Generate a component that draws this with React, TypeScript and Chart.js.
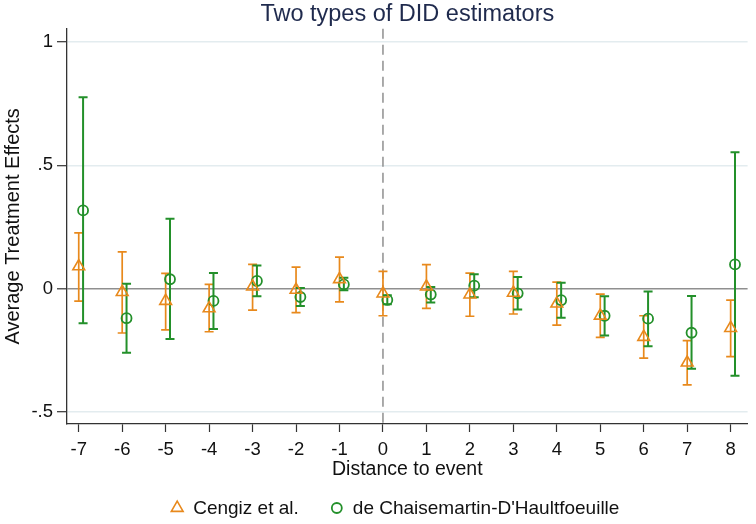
import React, { useEffect, useRef } from "react";
import { Chart, registerables } from "chart.js";
import { drawPoint } from "chart.js/helpers";

Chart.register(...registerables);

// Event time relative to treatment
const events = [-7, -6, -5, -4, -3, -2, -1, 0, 1, 2, 3, 4, 5, 6, 7, 8];

// Cengiz et al. estimates with 95% CI
const cengizEst = [0.09, -0.014, -0.05, -0.08, 0.008, -0.005, 0.038, -0.02, 0.008, -0.024, -0.017, -0.061, -0.11, -0.196, -0.3, -0.16];
const cengizLow = [-0.051, -0.18, -0.167, -0.175, -0.087, -0.097, -0.054, -0.11, -0.08, -0.112, -0.103, -0.148, -0.198, -0.282, -0.39, -0.276];
const cengizHigh = [0.226, 0.149, 0.062, 0.017, 0.098, 0.087, 0.128, 0.07, 0.097, 0.063, 0.07, 0.026, -0.022, -0.11, -0.211, -0.047];

// de Chaisemartin-D'Haultfoeuille estimates with 95% CI
const chaisEst = [0.317, -0.12, 0.038, -0.05, 0.031, -0.034, 0.017, -0.046, -0.024, 0.012, -0.019, -0.047, -0.11, -0.122, -0.179, 0.098];
const chaisLow = [-0.14, -0.26, -0.204, -0.164, -0.031, -0.07, -0.007, -0.063, -0.056, -0.035, -0.085, -0.118, -0.19, -0.234, -0.325, -0.353];
const chaisHigh = [0.776, 0.02, 0.283, 0.063, 0.094, 0.003, 0.044, -0.027, 0.007, 0.058, 0.047, 0.024, -0.031, -0.012, -0.03, 0.553];

// Horizontal shift so the two estimators sit side by side
const cengizShift = 0;
const chaisShift = 0.1;

const yTickValues = [-0.5, 0, 0.5, 1];
const yTickLabels = ["-.5", "0", ".5", "1"];

const FONT = '"Liberation Sans", Arial, Helvetica, sans-serif';
const ORANGE = "#e8891c";
const GREEN = "#23902a";
const AXIS = "#333333";
const REFLINE = "#8f8f8f";

const errorBarPlugin = {
  id: "errorBars",
  beforeDatasetsDraw(chart: any) {
    const { ctx, scales } = chart;
    const xs = scales.x;
    const ys = scales.y;
    // dashed reference line at event time 0
    const x0 = xs.getPixelForValue(0);
    ctx.save();
    ctx.strokeStyle = REFLINE;
    ctx.lineWidth = 1.5;
    ctx.setLineDash([10, 6]);
    ctx.beginPath();
    ctx.moveTo(x0, chart.chartArea.top);
    ctx.lineTo(x0, chart.chartArea.bottom);
    ctx.stroke();
    ctx.restore();

    chart.data.datasets.forEach((ds: any, i: number) => {
      if (!chart.isDatasetVisible(i)) return;
      ctx.save();
      ctx.strokeStyle = ds.borderColor;
      ctx.lineWidth = ds.ciWidth;
      const cap = 4.5;
      ds.data.forEach((pt: any, j: number) => {
        const px = xs.getPixelForValue(pt.x);
        const lo = ys.getPixelForValue(ds.ciLow[j]);
        const hi = ys.getPixelForValue(ds.ciHigh[j]);
        ctx.beginPath();
        ctx.moveTo(px, lo);
        ctx.lineTo(px, hi);
        ctx.moveTo(px - cap, lo);
        ctx.lineTo(px + cap, lo);
        ctx.moveTo(px - cap, hi);
        ctx.lineTo(px + cap, hi);
        ctx.stroke();
      });
      ctx.restore();
    });
  },
};

const legendPlugin = {
  id: "bottomLegend",
  afterDraw(chart: any) {
    const { ctx, chartArea } = chart;
    const sets = chart.data.datasets;
    ctx.save();
    ctx.font = `19px ${FONT}`;
    ctx.textBaseline = "middle";
    ctx.fillStyle = "#111111";
    const markerToText = 16;
    const itemGap = 38;
    const widths = sets.map((d: any) => ctx.measureText(d.label).width);
    let total = 0;
    widths.forEach((w: number, i: number) => {
      total += 6 + markerToText + w;
      if (i < widths.length - 1) total += itemGap - 6;
    });
    let x = (chartArea.left + chartArea.right) / 2 - 12 - total / 2;
    const y = 508;
    sets.forEach((d: any, i: number) => {
      const cx = x + 6;
      ctx.strokeStyle = d.borderColor;
      ctx.fillStyle = "rgba(0,0,0,0)";
      ctx.lineWidth = d.pointBorderWidth;
      drawPoint(ctx, { pointStyle: d.pointStyle, radius: d.pointRadius, rotation: 0, borderWidth: d.pointBorderWidth } as any, cx, y);
      ctx.fillStyle = "#111111";
      ctx.textAlign = "left";
      ctx.fillText(d.label, cx + markerToText, y + 1);
      x = cx + markerToText + widths[i] + itemGap - 6;
    });
    ctx.restore();
  },
};

export default function App() {
  const canvasRef = useRef<HTMLCanvasElement | null>(null);

  useEffect(() => {
    if (!canvasRef.current) return;
    const chart = new Chart(canvasRef.current, {
      type: "scatter",
      data: {
        datasets: [
          {
            label: "Cengiz et al.",
            data: events.map((e, i) => ({ x: e + cengizShift, y: cengizEst[i] })),
            ciLow: cengizLow,
            ciHigh: cengizHigh,
            ciWidth: 1.7,
            borderColor: ORANGE,
            backgroundColor: "rgba(0,0,0,0)",
            pointStyle: "triangle",
            pointRadius: 6.8,
            pointBorderWidth: 1.6,
          } as any,
          {
            label: "de Chaisemartin-D'Haultfoeuille",
            data: events.map((e, i) => ({ x: e + chaisShift, y: chaisEst[i] })),
            ciLow: chaisLow,
            ciHigh: chaisHigh,
            ciWidth: 2,
            borderColor: GREEN,
            backgroundColor: "rgba(0,0,0,0)",
            pointStyle: "circle",
            pointRadius: 5,
            pointBorderWidth: 1.8,
          } as any,
        ],
      },
      options: {
        responsive: false,
        animation: false,
        devicePixelRatio: 1,
        layout: { padding: { left: 0, right: 4, top: 0, bottom: 0 } },
        plugins: {
          legend: { display: false },
          tooltip: { enabled: false },
          title: {
            display: true,
            text: "Two types of DID estimators",
            fullSize: false,
            color: "#1f2a4d",
            font: { family: FONT, size: 23.5, weight: "normal" },
            padding: { top: 0.5, bottom: 0 },
          },
        },
        scales: {
          x: {
            type: "linear",
            min: -7.27,
            max: 8.39,
            afterFit: (s: any) => {
              s.height = 100;
            },
            afterBuildTicks: (s: any) => {
              s.ticks = events.map((v) => ({ value: v }));
            },
            grid: {
              drawOnChartArea: false,
              drawTicks: true,
              tickLength: 8,
              tickColor: AXIS,
              tickWidth: 1.2,
            },
            border: { display: true, color: AXIS, width: 1.3 },
            ticks: {
              color: "#111111",
              font: { family: FONT, size: 18.5 },
              padding: 7,
              maxRotation: 0,
              autoSkip: false,
              callback: (v: any) => String(v),
            },
            title: {
              display: true,
              text: "Distance to event",
              color: "#111111",
              font: { family: FONT, size: 19.5 },
              padding: { top: 0, bottom: 43 },
            },
          },
          y: {
            type: "linear",
            min: -0.549,
            max: 1.054,
            afterFit: (s: any) => {
              s.width = 67;
            },
            afterBuildTicks: (s: any) => {
              s.ticks = yTickValues.map((v) => ({ value: v }));
            },
            grid: {
              drawTicks: true,
              tickLength: 10,
              tickColor: AXIS,
              tickWidth: 1.2,
              color: (c: any) => (c.tick && c.tick.value === 0 ? REFLINE : "#e3ecef"),
              lineWidth: (c: any) => (c.tick && c.tick.value === 0 ? 1.6 : 1.4),
            },
            border: { display: true, color: AXIS, width: 1.3 },
            ticks: {
              color: "#111111",
              font: { family: FONT, size: 18.5 },
              padding: 4,
              callback: (v: any) => {
                const k = yTickValues.indexOf(Number(v));
                return k >= 0 ? yTickLabels[k] : "";
              },
            },
            title: {
              display: true,
              text: "Average Treatment Effects",
              color: "#111111",
              font: { family: FONT, size: 20 },
              padding: { top: 1, bottom: 0 },
            },
          },
        },
      },
      plugins: [errorBarPlugin, legendPlugin],
    } as any);
    return () => chart.destroy();
  }, []);

  return (
    <div style={{ position: "fixed", left: 0, top: 0, width: 756, height: 524, background: "#ffffff" }}>
      <canvas ref={canvasRef} width={756} height={524} style={{ display: "block" }} />
    </div>
  );
}
